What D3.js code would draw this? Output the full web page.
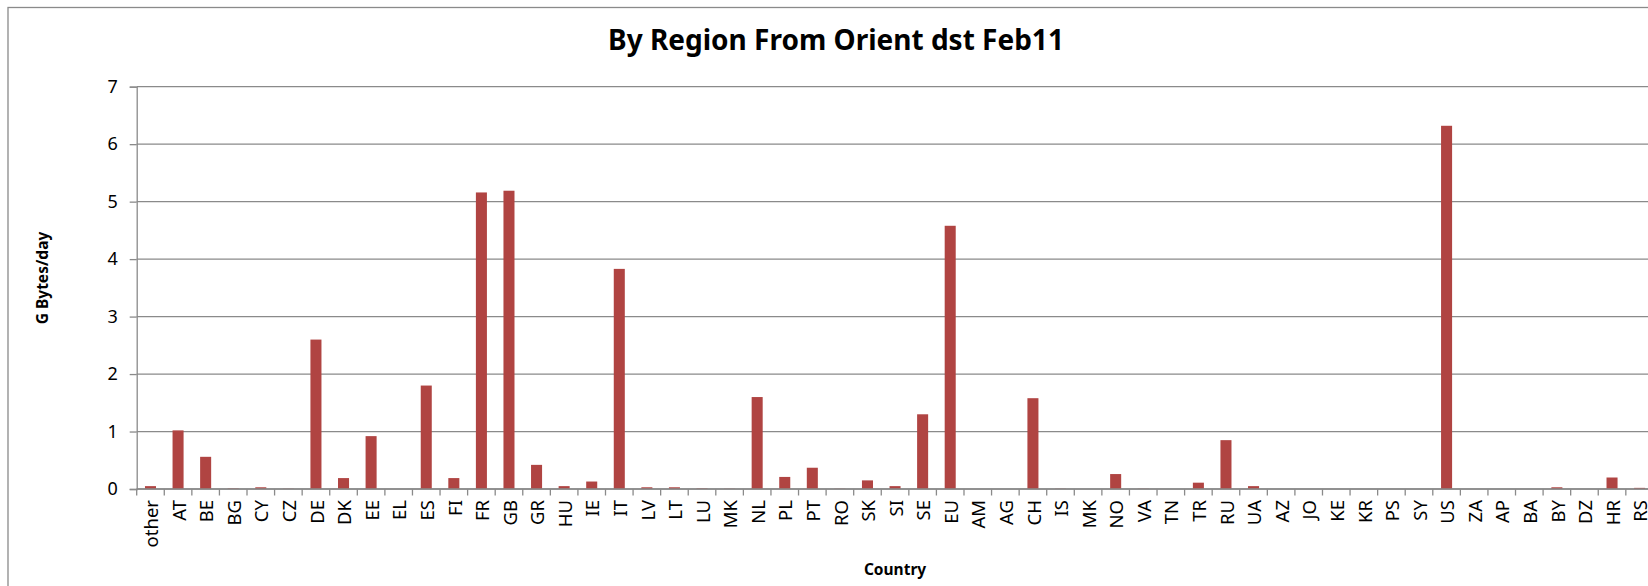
<!DOCTYPE html>
<html>
<head>
<meta charset="utf-8">
<script src="https://cdn.jsdelivr.net/npm/d3@7"></script>
<style>
  body { margin: 0; background: #fff; }
  svg { display: block; font-family: 'Noto Sans', 'Open Sans', sans-serif; }
</style>
</head>
<body>
<div class="visHolder"></div>
<script>
const w = 1648, h = 586;

// countries on the x axis (MK shows up twice in the source)
const countries = ['other','AT','BE','BG','CY','CZ','DE','DK','EE','EL','ES','FI','FR','GB','GR',
  'HU','IE','IT','LV','LT','LU','MK','NL','PL','PT','RO','SK','SI','SE','EU','AM','AG','CH','IS',
  'MK','NO','VA','TN','TR','RU','UA','AZ','JO','KE','KR','PS','SY','US','ZA','AP','BA','BY','DZ','HR','RS'];
// G Bytes/day
const gbytes = [0.05,1.02,0.56,0.01,0.03,0.005,2.60,0.19,0.92,0,1.80,0.19,5.16,5.19,0.42,
  0.05,0.13,3.83,0.03,0.03,0.01,0.005,1.60,0.21,0.37,0.005,0.15,0.05,1.30,4.58,0,0,1.58,0.005,
  0,0.26,0.005,0,0.11,0.85,0.05,0,0,0,0,0,0,6.32,0,0,0,0.03,0,0.20,0.02];
const yTicks = [0,1,2,3,4,5,6,7];

const dataset = countries.map((c, i) => ({key: i, label: c, value: gbytes[i]}));

const plotLeft = 136.7, plotRight = 1653.4, plotTop = 86.7, plotBottom = 489;
const grey = '#8a8a8a';

const svg = d3.select('.visHolder')
  .append('svg')
  .attr('width', w)
  .attr('height', h);

// chart area border, runs off the right and bottom edges
svg.append('rect')
  .attr('x', 8).attr('y', 7.5)
  .attr('width', 1700).attr('height', 700)
  .attr('fill', 'none')
  .attr('stroke', grey)
  .attr('stroke-width', 1.3);

const xCat = d3.scaleBand()
  .domain(dataset.map(d => d.key))
  .range([plotLeft, plotRight]);
const xBar = d3.scaleBand()
  .domain(dataset.map(d => d.key))
  .range([plotLeft, plotRight])
  .paddingInner(0.6)
  .paddingOuter(0.3);
const yScale = d3.scaleLinear()
  .domain([0, 7])
  .range([plotBottom, plotTop]);

// horizontal gridlines
svg.append('g')
  .selectAll('line')
  .data(yTicks)
  .enter()
  .append('line')
  .attr('x1', plotLeft).attr('x2', w + 10)
  .attr('y1', d => yScale(d)).attr('y2', d => yScale(d))
  .attr('stroke', grey)
  .attr('stroke-width', 1.3);

// y axis
const yAxis = d3.axisLeft(yScale).tickValues(yTicks).tickSize(7).tickPadding(12).tickFormat(d3.format('d'));
const gy = svg.append('g')
  .attr('id', 'y-axis')
  .attr('transform', `translate(${plotLeft}, 0)`)
  .call(yAxis);
gy.select('.domain').attr('stroke', grey).attr('stroke-width', 1.3);
gy.selectAll('.tick line').attr('stroke', grey).attr('stroke-width', 1.3);
gy.selectAll('.tick text').attr('font-size', 18).attr('fill', '#000').attr('font-family', "'Noto Sans', sans-serif");

// bars
svg.append('g')
  .selectAll('rect')
  .data(dataset)
  .enter()
  .append('rect')
  .attr('x', d => xBar(d.key))
  .attr('width', xBar.bandwidth())
  .attr('y', d => yScale(d.value))
  .attr('height', d => plotBottom - yScale(d.value))
  .attr('fill', '#b04442');

// x axis: line, boundary ticks, rotated labels
svg.append('line')
  .attr('x1', plotLeft).attr('x2', w + 10)
  .attr('y1', plotBottom).attr('y2', plotBottom)
  .attr('stroke', grey).attr('stroke-width', 1.3);

const bounds = dataset.map(d => xCat(d.key)).concat([plotRight]);
svg.append('g')
  .selectAll('line')
  .data(bounds)
  .enter()
  .append('line')
  .attr('x1', d => d).attr('x2', d => d)
  .attr('y1', plotBottom).attr('y2', plotBottom + 6.5)
  .attr('stroke', grey).attr('stroke-width', 1.3);

svg.append('g')
  .selectAll('text')
  .data(dataset)
  .enter()
  .append('text')
  .attr('transform', d => `translate(${xCat(d.key) + xCat.bandwidth() / 2 + 1}, ${plotBottom + 11}) rotate(-90)`)
  .attr('dy', '0.36em')
  .style('text-anchor', 'end')
  .attr('font-size', 18.5)
  .text(d => d.label);

// titles
svg.append('text')
  .attr('x', 836).attr('y', 49.5)
  .style('text-anchor', 'middle')
  .attr('font-size', 28)
  .attr('font-weight', 'bold')
  .text('By Region From Orient dst Feb11');

svg.append('text')
  .attr('transform', `translate(48, 278) rotate(-90)`)
  .style('text-anchor', 'middle')
  .attr('font-size', 15.5)
  .attr('font-weight', 'bold')
  .text('G Bytes/day');

svg.append('text')
  .attr('x', (plotLeft + plotRight) / 2).attr('y', 575)
  .style('text-anchor', 'middle')
  .attr('font-size', 15.5)
  .attr('font-weight', 'bold')
  .text('Country');
</script>
</body>
</html>
